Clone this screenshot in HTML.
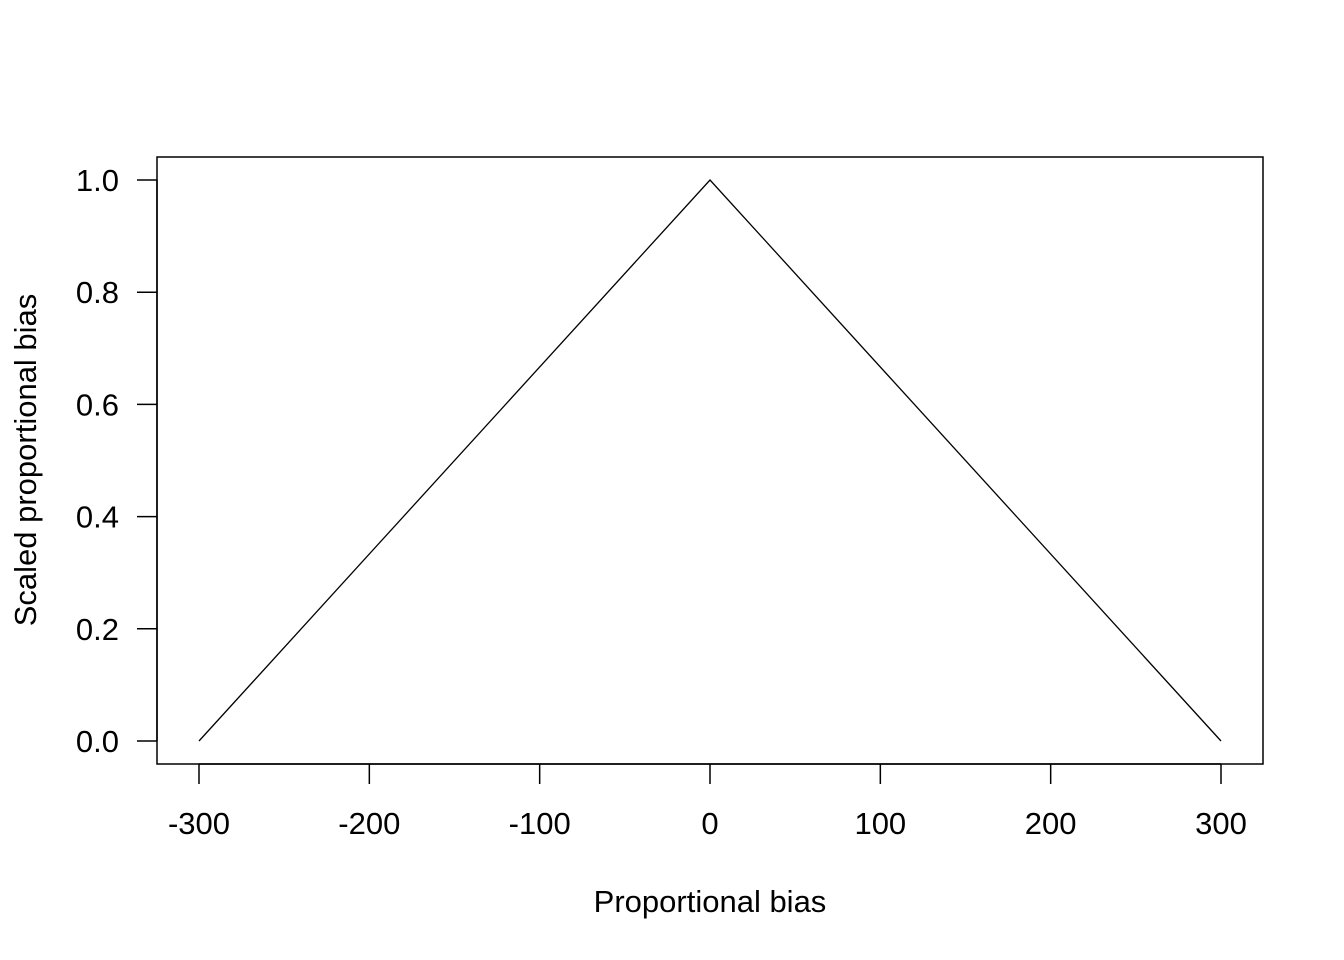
<!DOCTYPE html>
<html><head><meta charset="utf-8"><style>
html,body{margin:0;padding:0;background:#fff;}
svg{display:block;font-family:"Liberation Sans",Arial,sans-serif;}
</style></head><body>
<svg id="chart" width="1344" height="960"></svg>
<script>
const xValues = [-300, 0, 300];
const yValues = [0, 1, 0];
const xTicks = [-300, -200, -100, 0, 100, 200, 300];
const yTicks = [0, 0.2, 0.4, 0.6, 0.8, 1.0];
const yTickLabels = ["0.0", "0.2", "0.4", "0.6", "0.8", "1.0"];

const NS = "http://www.w3.org/2000/svg";
const svg = document.getElementById("chart");
const box = {l:157, r:1263, t:157, b:764};
function sx(v){ return 199 + (v + 300) * (1221 - 199) / 600; }
function sy(v){ return 741 - v * (741 - 180); }
function mk(tag, attrs, parent){
  const e = document.createElementNS(NS, tag);
  for (const k in attrs) e.setAttribute(k, attrs[k]);
  (parent || svg).appendChild(e);
  return e;
}
const frame = mk("rect", {x:box.l, y:box.t, width:box.r-box.l, height:box.b-box.t, fill:"none", stroke:"#000", "stroke-width":1.5});



const xAxis = mk("g", {});


mk("line", {x1:sx(xTicks[0]), x2:sx(xTicks[xTicks.length-1]), y1:box.b, y2:box.b, stroke:"#000", "stroke-width":1.5}, xAxis);
xTicks.forEach(t => {
  mk("line", {x1:sx(t), x2:sx(t), y1:box.b, y2:box.b+20, stroke:"#000", "stroke-width":1.5}, xAxis);
  const tx = mk("text", {x:sx(t), y:834, "font-size":31, "text-anchor":"middle"}, xAxis);
  tx.textContent = String(t);
  
  
});

const yAxis = mk("g", {});


mk("line", {x1:box.l, x2:box.l, y1:sy(yTicks[0]), y2:sy(yTicks[yTicks.length-1]), stroke:"#000", "stroke-width":1.5}, yAxis);
yTicks.forEach((t,i) => {
  mk("line", {x1:box.l-20, x2:box.l, y1:sy(t), y2:sy(t), stroke:"#000", "stroke-width":1.5}, yAxis);
  const tx = mk("text", {x:119, y:sy(t)+11, "font-size":31, "text-anchor":"end"}, yAxis);
  tx.textContent = yTickLabels[i];
  
  
});

const xt = mk("text", {x:710, y:912, "font-size":31, "text-anchor":"middle"});
xt.textContent = "Proportional bias";


const yt = mk("text", {x:0, y:0, "font-size":31, "text-anchor":"middle", transform:"translate(36,460) rotate(-90)"});
yt.textContent = "Scaled proportional bias";



const pts = xValues.map((x,i) => sx(x) + "," + sy(yValues[i])).join(" ");
const line = mk("polyline", {points:pts, fill:"none", stroke:"#000", "stroke-width":1.3});


</script>
</body></html>
